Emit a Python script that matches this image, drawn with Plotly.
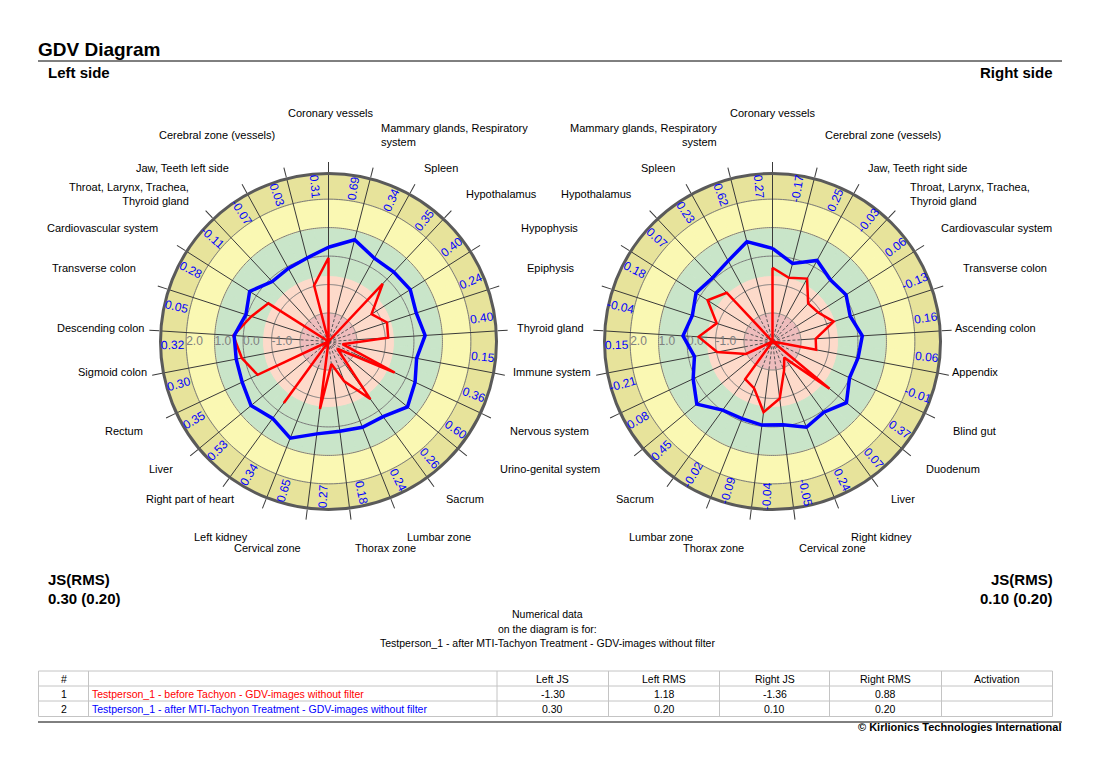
import math
import plotly.graph_objects as go

# ------------------------------------------------------------------ data
left_sectors = ["Coronary vessels", "Mammary glands, Respiratory<br>system", "Spleen", "Hypothalamus",
                "Hypophysis", "Epiphysis", "Thyroid gland", "Immune system", "Nervous system",
                "Urino-genital system", "Sacrum", "Lumbar zone", "Thorax zone", "Cervical zone",
                "Left kidney", "Right part of heart", "Liver", "Rectum", "Sigmoid colon",
                "Descending colon", "Transverse colon", "Cardiovascular system",
                "Throat, Larynx, Trachea,<br>Thyroid gland", "Jaw, Teeth left side",
                "Cerebral zone (vessels)"]
right_sectors = ["Coronary vessels", "Cerebral zone (vessels)", "Jaw, Teeth right side",
                 "Throat, Larynx, Trachea,<br>Thyroid gland", "Cardiovascular system",
                 "Transverse colon", "Ascending colon", "Appendix", "Blind gut", "Duodenum",
                 "Liver", "Right kidney", "Cervical zone", "Thorax zone", "Lumbar zone", "Sacrum",
                 "Urino-genital system", "Nervous system", "Immune system", "Thyroid gland",
                 "Epiphysis", "Hypophysis", "Hypothalamus", "Spleen",
                 "Mammary glands, Respiratory<br>system"]

# series 2 (after treatment) - also printed in the outer ring
left_after = [0.31, 0.69, 0.34, 0.35, 0.40, 0.24, 0.40, 0.15, 0.36, 0.60, 0.26, 0.24, 0.18,
              0.27, 0.65, 0.34, 0.53, 0.35, 0.30, 0.32, 0.05, 0.28, -0.11, -0.07, 0.03]
right_after = [0.27, -0.17, 0.25, -0.03, 0.06, -0.13, 0.16, 0.06, -0.01, 0.37, 0.07, 0.24, -0.05,
               -0.04, -0.09, -0.02, 0.45, 0.08, -0.21, 0.15, -0.04, 0.18, 0.07, 0.23, 0.62]
# series 1 (before)
left_before = [-0.06, -3.0, -3.0, -0.22, -1.21, -0.84, -0.90, -2.5, -0.43, -2.6, -0.50, -1.5,
               -2.2, -0.61, -3.0, -0.33, -3.0, -0.25, 0.10, 0.35, -0.15, -0.50, -3.0, -3.0, -0.97]
right_before = [-0.41, -0.69, -0.48, -1.17, -1.10, -0.74, -1.48, -1.44, -3.0, -0.40, -2.3, -1.9,
                -0.98, -0.50, -1.24, -1.37, -3.0, -1.97, -1.02, -0.40, -0.94, -0.30, -0.65, -3.0, -3.0]

radial_ticks = [-1, 0, 1, 2]
radial_ticktext = ["-1.0", "0.0", "1.0", "2.0"]
grid_levels = [-2, -1, 0, 1, 2]
ring_edges = [-3.0, -2.0, -0.68, 1.0, 2.0, 2.9]
ring_colors = ["#EEBDBD", "#FDDACA", "#C9E5C9", "#FAF8B3", "#E7E39B"]

table_header = ["#", "", "Left JS", "Left RMS", "Right JS", "Right RMS", "Activation"]
table_ids = ["1", "2"]
table_names = ["Testperson_1 - before Tachyon - GDV-images without filter",
               "Testperson_1 - after MTI-Tachyon Treatment - GDV-images without filter"]
table_left_js = [-1.30, 0.30]
table_left_rms = [1.18, 0.20]
table_right_js = [-1.36, 0.10]
table_right_rms = [0.88, 0.20]

# ------------------------------------------------------------------ layout constants
W, H = 1101, 772
R_MIN, R_MAX = -3.0, 2.9
RAD_PX = 168.0
CENTERS = [(328.5, 341.5), (772.5, 341.5)]
FONT = "Liberation Sans, Arial, sans-serif"
RED = "#FF0000"
BLUE = "#0000FF"
N = len(left_sectors)
STEP = 360.0 / N
angles = [i * STEP for i in range(N)]


def px(x):
    return x / W


def py(y):
    return 1 - y / H


fig = go.Figure()


def add_polar(sub, after, before):
    # coloured rings
    for lo, hi, col in zip(ring_edges[:-1], ring_edges[1:], ring_colors):
        fig.add_trace(go.Barpolar(theta=angles, r=[hi - lo] * N, base=[lo] * N,
                                  width=[STEP] * N, marker=dict(color=col, line=dict(color=col, width=1)),
                                  subplot=sub, hoverinfo="skip"))
    # grid circles
    circ = [k for k in range(0, 361, 1)]
    for lv in grid_levels:
        fig.add_trace(go.Scatterpolar(theta=circ, r=[lv] * len(circ), mode="lines",
                                      line=dict(color="#7A7A7A", width=1), subplot=sub, hoverinfo="skip"))
    # spokes
    th_in, r_in, th_out, r_out = [], [], [], []
    for a in angles:
        th_in += [a, a, None]
        r_in += [R_MIN, -2, None]
        th_out += [a, a, None]
        r_out += [-2, R_MAX, None]
    fig.add_trace(go.Scatterpolar(theta=th_in, r=r_in, mode="lines",
                                  line=dict(color="#555555", width=1, dash="3px,2px"), subplot=sub, hoverinfo="skip"))
    fig.add_trace(go.Scatterpolar(theta=th_out, r=r_out, mode="lines",
                                  line=dict(color="#3A3A3A", width=1), subplot=sub, hoverinfo="skip"))
    # radial tick labels
    fig.add_trace(go.Scatterpolar(theta=[270] * len(radial_ticks), r=radial_ticks, mode="text",
                                  text=radial_ticktext, textposition="middle right",
                                  textfont=dict(color="#808080", size=12, family=FONT),
                                  subplot=sub, hoverinfo="skip"))
    # data series
    fig.add_trace(go.Scatterpolar(theta=angles + [angles[0]], r=before + [before[0]], mode="lines",
                                  line=dict(color=RED, width=2.5), subplot=sub, hoverinfo="skip"))
    fig.add_trace(go.Scatterpolar(theta=angles + [angles[0]], r=after + [after[0]], mode="lines",
                                  line=dict(color=BLUE, width=3.5), subplot=sub, hoverinfo="skip"))


add_polar("polar", left_after, left_before)
add_polar("polar2", right_after, right_before)


def polar_layout(cx, cy):
    return dict(
        domain=dict(x=[px(cx - RAD_PX), px(cx + RAD_PX)], y=[py(cy + RAD_PX), py(cy - RAD_PX)]),
        bgcolor="rgba(0,0,0,0)",
        radialaxis=dict(range=[R_MIN, R_MAX], showgrid=False, showline=False, showticklabels=False,
                        ticks="", visible=False),
        angularaxis=dict(rotation=90, direction="clockwise", thetaunit="degrees",
                         tickmode="array", tickvals=angles, showticklabels=False,
                         ticks="outside", ticklen=10, tickwidth=1, tickcolor="#3A3A3A",
                         showgrid=False, showline=True, linecolor="#5A5A5A", linewidth=3),
    )


annotations = []


def txt(x, y, s, size=11, color="black", xanchor="center", bold=False, align=None, angle=0):
    if bold:
        s = "<b>" + s + "</b>"
    annotations.append(dict(x=px(x), y=py(y), xref="paper", yref="paper", text=s, showarrow=False,
                            xanchor=xanchor, yanchor="middle", textangle=angle,
                            align=align or (xanchor if xanchor != "center" else "center"),
                            font=dict(size=size, color=color, family=FONT)))


# outer ring numbers
scale = RAD_PX / (R_MAX - R_MIN)
R_NUM = (2.45 - R_MIN) * scale
for (cx, cy), vals in zip(CENTERS, [left_after, right_after]):
    for a, v in zip(angles, vals):
        phi = (a - 5.0) % 360
        ang = phi - 90 if phi < 180 else phi - 270
        x = cx + R_NUM * math.sin(math.radians(phi))
        y = cy - R_NUM * math.cos(math.radians(phi))
        txt(x, y, f"{v:.2f}", size=12, color=BLUE, angle=ang)

# sector labels (pixel placement)
left_label_pos = [(330, 113, "center"), (379, 135, "left"), (422, 168, "left"), (464, 194, "left"),
                  (519, 228, "left"), (525, 268, "left"), (515, 328, "left"), (511, 372, "left"),
                  (508, 431, "left"), (498, 469, "left"), (444, 499, "left"), (405, 537, "left"),
                  (353, 548, "left"), (232, 548, "left"), (192, 537, "left"), (236, 499, "right"),
                  (175, 469, "right"), (145, 431, "right"), (149, 372, "right"), (146, 328, "right"),
                  (138, 268, "right"), (160, 228, "right"), (191, 194, "right"), (231, 168, "right"),
                  (277, 135, "right")]
right_label_pos = [(772, 113, "center"), (823, 135, "left"), (866, 168, "left"), (908, 194, "left"),
                   (939, 228, "left"), (961, 268, "left"), (953, 328, "left"), (950, 372, "left"),
                   (951, 431, "left"), (924, 469, "left"), (889, 499, "left"), (849, 537, "left"),
                   (797, 548, "left"), (681, 548, "left"), (627, 537, "left"), (614, 499, "left"),
                   None, None, None, None, None, None,
                   (634, 194, "right"), (677, 168, "right"), (719, 135, "right")]
for names, poss in [(left_sectors, left_label_pos), (right_sectors, right_label_pos)]:
    for name, p in zip(names, poss):
        if p is None:
            continue
        txt(p[0], p[1], name, size=11, xanchor=p[2])

# headings
txt(36, 49, "GDV Diagram", size=19, xanchor="left", bold=True)
txt(46, 72, "Left side", size=15, xanchor="left", bold=True)
txt(1055, 72, "Right side", size=15, xanchor="right", bold=True)
txt(46, 579, "JS(RMS)", size=15, xanchor="left", bold=True)
txt(46, 598, f"{table_left_js[1]:.2f} ({table_left_rms[1]:.2f})", size=15, xanchor="left", bold=True)
txt(1055, 579, "JS(RMS)", size=15, xanchor="right", bold=True)
txt(1055, 598, f"{table_right_js[1]:.2f} ({table_right_rms[1]:.2f})", size=15, xanchor="right", bold=True)
txt(547, 614, "Numerical data", size=10.5)
txt(547, 629, "on the diagram is for:", size=10.5)
txt(547, 643, table_names[1], size=10.5)
txt(1063, 727, "© Kirlionics Technologies International", size=11, xanchor="right", bold=True)

# table
col_x = [38.5, 88.5, 497, 608.5, 719.5, 829.5, 941.5, 1052.5]
row_y = [671, 686, 701, 716.5]
shapes = []
for yy in row_y:
    shapes.append(dict(type="line", xref="paper", yref="paper", x0=px(col_x[0]), x1=px(col_x[-1]),
                       y0=py(yy), y1=py(yy), line=dict(color="#C4C4C4", width=1)))
for xx in col_x:
    shapes.append(dict(type="line", xref="paper", yref="paper", x0=px(xx), x1=px(xx),
                       y0=py(row_y[0]), y1=py(row_y[-1]), line=dict(color="#C4C4C4", width=1)))
shapes.append(dict(type="line", xref="paper", yref="paper", x0=px(38), x1=px(1062), y0=py(61), y1=py(61),
                   line=dict(color="black", width=1)))
shapes.append(dict(type="line", xref="paper", yref="paper", x0=px(38), x1=px(1062), y0=py(722), y1=py(722),
                   line=dict(color="black", width=1)))

mid = lambda k: (col_x[k] + col_x[k + 1]) / 2
ymid = [(row_y[k] + row_y[k + 1]) / 2 for k in range(3)]
for k, h in enumerate(table_header):
    if h:
        txt(mid(k), ymid[0], h, size=10.5)
row_colors = [RED, BLUE]
for j in range(2):
    yy = ymid[j + 1]
    txt(mid(0), yy, table_ids[j], size=10.5)
    txt(col_x[1] + 1, yy, table_names[j], size=10.5, color=row_colors[j], xanchor="left")
    for k, arr in zip([2, 3, 4, 5], [table_left_js, table_left_rms, table_right_js, table_right_rms]):
        txt(mid(k), yy, f"{arr[j]:.2f}", size=10.5)

fig.update_layout(
    width=W, height=H, autosize=False,
    margin=dict(l=0, r=0, t=0, b=0),
    paper_bgcolor="white", plot_bgcolor="white",
    showlegend=False,
    polar=polar_layout(*CENTERS[0]),
    polar2=polar_layout(*CENTERS[1]),
    annotations=annotations,
    shapes=shapes,
    barmode="overlay",
)

fig.write_html("out.html")
